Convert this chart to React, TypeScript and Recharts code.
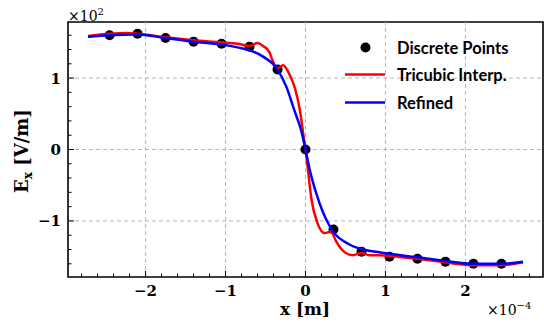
import React from "react";
import {
  ComposedChart,
  XAxis,
  YAxis,
  Line,
  ReferenceLine,
  ReferenceArea,
} from "recharts";

// discrete samples (x in 1e-4 m, Ex in V/m)
const pointX = [-2.45, -2.1, -1.75, -1.4, -1.05, -0.7, -0.35, 0, 0.35, 0.7, 1.05, 1.4, 1.75, 2.1, 2.45];
const pointY = [160, 162, 156, 151, 148, 144, 112, 0, -112, -143, -150, -153, -157, -160, -160];

// tricubic interpolation curve
const redX = [-2.72, -2.45, -2.24, -2.1, -1.75, -1.4, -1.05, -0.85, -0.7, -0.6, -0.53, -0.45, -0.41, -0.35, -0.28, -0.2, -0.13, -0.07, -0.02, 0, 0.02, 0.075, 0.15, 0.24, 0.32, 0.38, 0.47, 0.59, 0.7, 0.8, 0.93, 1.05, 1.4, 1.75, 2.1, 2.45, 2.72];
const redY = [159, 162, 163, 162, 157, 153, 150, 148, 145, 149, 145, 136, 124, 114, 118, 105, 85, 55, 15, 0, -18, -70, -103, -117, -115, -128, -142, -148, -145, -148, -148, -149, -153, -158, -162, -162, -158];

// refined solution
const blueX = [-2.72, -2.45, -2.1, -1.75, -1.4, -1.05, -0.85, -0.7, -0.53, -0.37, -0.24, -0.14, -0.05, 0, 0.05, 0.175, 0.34, 0.55, 0.76, 0.93, 1.05, 1.4, 1.75, 2.1, 2.45, 2.72];
const blueY = [158, 160, 161, 156, 151, 147, 143, 139, 130, 115, 88, 55, 25, 0, -27, -75, -114, -133, -141, -144, -146, -151, -156, -160, -160, -157];

// axes
const xMajor = [-2, -1, 0, 1, 2];
const xMinor = [-2.8, -2.6, -2.4, -2.2, -1.8, -1.6, -1.4, -1.2, -0.8, -0.6, -0.4, -0.2, 0.2, 0.4, 0.6, 0.8, 1.2, 1.4, 1.6, 1.8, 2.2, 2.4, 2.6, 2.8];
const yMajor = [-100, 0, 100];
const yMinor = [-160, -140, -120, -80, -60, -40, -20, 20, 40, 60, 80, 120, 140, 160];

const points = pointX.map((x, i) => ({ x, y: pointY[i] }));
const red = redX.map((x, i) => ({ x, y: redY[i] }));
const blue = blueX.map((x, i) => ({ x, y: blueY[i] }));

const serif = "DejaVu Serif";
const sans = "Lato";

const fmt = (v: number) => (v < 0 ? "\u2212" + Math.abs(v) : String(v));

const XTick = (props: any) => {
  const { x, y, payload } = props;
  const major = xMajor.includes(payload.value);
  return (
    <g>
      <line x1={x} x2={x} y1={y} y2={y - (major ? 6 : 3.5)} stroke="#000" strokeWidth={1} />
      {major && (
        <text x={x} y={y + 18.5} textAnchor="middle" fontFamily={serif} fontWeight="bold" fontSize={15} fill="#000">
          {fmt(payload.value)}
        </text>
      )}
    </g>
  );
};

const YTick = (props: any) => {
  const { x, y, payload } = props;
  const major = yMajor.includes(payload.value);
  return (
    <g>
      <line x1={x} x2={x + (major ? 6 : 3.5)} y1={y} y2={y} stroke="#000" strokeWidth={1} />
      {major && (
        <text x={x - 7} y={y + 5.5} textAnchor="end" fontFamily={serif} fontWeight="bold" fontSize={15} fill="#000">
          {fmt(payload.value / 100)}
        </text>
      )}
    </g>
  );
};

const Dot = (props: any) =>
  props.cx == null ? null : <circle cx={props.cx} cy={props.cy} r={5} fill="#000" />;

const App = () => {
  return (
    <div style={{ position: "absolute", left: 0, top: 0, width: 544, height: 326 }}>
      <ComposedChart
        width={544}
        height={326}
        margin={{ top: 22, right: 1, bottom: 0, left: 0 }}
      >
        <XAxis
          dataKey="x"
          type="number"
          domain={[-2.97, 2.97]}
          ticks={[...xMajor, ...xMinor]}
          interval={0}
          tick={<XTick />}
          tickLine={false}
          tickSize={0}
          tickMargin={0}
          axisLine={false}
          height={49}
          allowDataOverflow
        />
        <YAxis
          dataKey="y"
          type="number"
          domain={[-178.5, 178.5]}
          ticks={[...yMajor, ...yMinor]}
          interval={0}
          tick={<YTick />}
          tickLine={false}
          tickSize={0}
          tickMargin={0}
          axisLine={false}
          width={68}
          allowDataOverflow
        />

        {/* grid */}
        {xMajor.map((v) => (
          <ReferenceLine key={"gx" + v} x={v} stroke="#b5b5b5" strokeDasharray="4 3" strokeWidth={1} />
        ))}
        {yMajor.map((v) => (
          <ReferenceLine key={"gy" + v} y={v} stroke="#b5b5b5" strokeDasharray="4 3" strokeWidth={1} />
        ))}

        {/* discrete points drawn first so the curves sit on top */}
        <Line data={points} dataKey="y" stroke="none" strokeWidth={0} dot={<Dot />} activeDot={false} isAnimationActive={false} zIndex={300} />
        <Line data={red} dataKey="y" type="monotone" stroke="#ff0000" strokeWidth={2.5} dot={false} isAnimationActive={false} zIndex={1300} />
        <Line data={blue} dataKey="y" type="monotone" stroke="#0000ff" strokeWidth={2.5} dot={false} isAnimationActive={false} zIndex={1310} />

        {/* frame */}
        <ReferenceArea x1={-2.97} x2={2.97} y1={-178.5} y2={178.5} fill="none" stroke="#000" strokeWidth={1.6} />
      </ComposedChart>

      <svg width={544} height={326} style={{ position: "absolute", left: 0, top: 0, pointerEvents: "none" }}>
        {/* legend */}
        <circle cx={365.5} cy={47.5} r={5} fill="#000" />
        <line x1={345} x2={385} y1={74.5} y2={74.5} stroke="#ff0000" strokeWidth={2.5} />
        <line x1={345} x2={385} y1={102.5} y2={102.5} stroke="#0000ff" strokeWidth={2.5} />
        <g fontFamily={sans} fontWeight="bold" fontSize={16.5} fill="#000">
          <text x={397} y={53.5}>Discrete Points</text>
          <text x={397} y={81}>Tricubic Interp.</text>
          <text x={397} y={109}>Refined</text>
        </g>

        {/* multipliers */}
        <text x={68} y={21} fontFamily={serif} fontSize={14} fill="#000">
          ×10<tspan dy={-6} fontSize={10}>2</tspan>
        </text>
        <text x={487} y={315} fontFamily={serif} fontSize={14} fill="#000">
          ×10<tspan dy={-6} fontSize={10}>−4</tspan>
        </text>

        {/* axis titles */}
        <text x={305} y={315} textAnchor="middle" fontFamily={serif} fontWeight="bold" fontSize={17} fill="#000">
          x [m]
        </text>
        <text
          transform="translate(28,151) rotate(-90)"
          textAnchor="middle"
          fontFamily={serif}
          fontWeight="bold"
          fontSize={18}
          fill="#000"
        >
          E<tspan dy={4} fontSize={12}>x</tspan>
          <tspan dy={-4}> [V/m]</tspan>
        </text>
      </svg>
    </div>
  );
};

export default App;
